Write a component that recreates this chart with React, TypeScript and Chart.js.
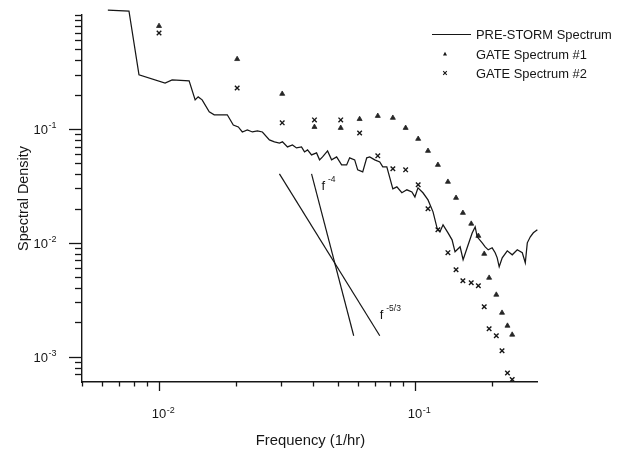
import React, { useEffect, useRef } from "react";
import { Chart, registerables } from "chart.js";

Chart.register(...registerables);

// PRE-STORM spectrum (frequency in 1/hr, spectral density)
const preStormFreq = [
  0.00631, 0.00763, 0.00835, 0.01056, 0.01125, 0.01311, 0.01384, 0.01422, 0.01474, 0.01571,
  0.01643, 0.01848, 0.01951, 0.02041, 0.02116, 0.02214, 0.02317, 0.02424, 0.02535, 0.027,
  0.02825, 0.02955, 0.03037, 0.03177, 0.03323, 0.03445, 0.03604, 0.03703, 0.03805, 0.03945,
  0.04127, 0.0424, 0.04356, 0.04557, 0.04725, 0.04943, 0.05171, 0.0541, 0.05559, 0.05816,
  0.05976, 0.06252, 0.06482, 0.0666, 0.06967, 0.07289, 0.07489, 0.07766, 0.0798, 0.08199,
  0.08501, 0.08892, 0.09302, 0.09732, 0.1, 0.1028, 0.1075, 0.1125, 0.1177, 0.122,
  0.1253, 0.1288, 0.1347, 0.1397, 0.1435, 0.1475, 0.1502, 0.1543, 0.16, 0.1674,
  0.172, 0.1751, 0.1832, 0.1882, 0.1934, 0.2004, 0.2059, 0.2097, 0.2135, 0.2194,
  0.2296, 0.2401, 0.2512, 0.2628, 0.27, 0.2749, 0.2825, 0.2903, 0.301,
];
const preStormDensity = [
  1.106, 1.084, 0.298, 0.253, 0.269, 0.264, 0.18, 0.191, 0.18, 0.141,
  0.133, 0.133, 0.108, 0.104, 0.094, 0.098, 0.094, 0.096, 0.094, 0.08,
  0.077, 0.075, 0.077, 0.0695, 0.0724, 0.0681, 0.0695, 0.0628, 0.0654, 0.0591,
  0.0616, 0.0535, 0.0568, 0.0641, 0.0535, 0.0568, 0.0483, 0.0483, 0.0557, 0.0535,
  0.0437, 0.042, 0.0557, 0.0568, 0.0535, 0.0513, 0.0464, 0.0464, 0.0372, 0.0298,
  0.031, 0.0275, 0.0292, 0.028, 0.0253, 0.0304, 0.0275, 0.0238, 0.0187, 0.01354,
  0.01249, 0.01438, 0.01224, 0.01062, 0.00834, 0.00886, 0.00922, 0.0071, 0.00904, 0.0122,
  0.01381, 0.01129, 0.01, 0.00922, 0.00868, 0.00904, 0.00818, 0.00738, 0.00616, 0.00738,
  0.00851, 0.00785, 0.00868, 0.00818, 0.00668, 0.01, 0.01129, 0.01224, 0.013,
];

// GATE spectra
const gateFreq = [
  0.01, 0.0202, 0.0303, 0.0405, 0.0513, 0.0608, 0.0716, 0.082, 0.092, 0.103,
  0.1125, 0.123, 0.1346, 0.1448, 0.154, 0.166, 0.177, 0.1866, 0.195, 0.208,
  0.219, 0.23, 0.24,
];
const gate1Density = [
  0.8, 0.41, 0.203, 0.104, 0.102, 0.122, 0.13, 0.125, 0.102, 0.0817,
  0.0641, 0.0483, 0.0343, 0.0248, 0.0183, 0.0147, 0.0115, 0.008, 0.00493, 0.0035,
  0.00243, 0.00187, 0.00156,
];
const gate2Density = [
  0.695, 0.229, 0.113, 0.12, 0.12, 0.092, 0.058, 0.0446, 0.0437, 0.0323,
  0.0199, 0.013, 0.0082, 0.0058, 0.00464, 0.00446, 0.0042, 0.00275, 0.00176, 0.00153,
  0.00113, 0.00072, 0.00063,
];

// reference slope lines
const slope53Freq = [0.02955, 0.07289];
const slope53Density = [0.0403, 0.001528];
const slope4Freq = [0.03945, 0.05765];
const slope4Density = [0.0403, 0.001528];

// slope label anchors
const slope4Label = { x: 0.0431, y: 0.0292, exp: "-4" };
const slope53Label = { x: 0.0729, y: 0.00216, exp: "-5/3" };

// axes
const xMin = 0.005;
const xMax = 0.3;
const yMin = 0.0006;
const yMax = 1;
const xMajorTicks = [0.01, 0.1];
const xMajorExp = ["-2", "-1"];
const xMinorTicks = [0.005, 0.006, 0.007, 0.008, 0.009, 0.02, 0.03, 0.04, 0.05, 0.06, 0.07, 0.08, 0.09, 0.2];
const yMajorTicks = [0.1, 0.01, 0.001];
const yMajorExp = ["-1", "-2", "-3"];
const yMinorTicks = [
  1, 0.9, 0.8, 0.7, 0.6, 0.5, 0.4, 0.3, 0.2,
  0.09, 0.08, 0.07, 0.06, 0.05, 0.04, 0.03, 0.02,
  0.009, 0.008, 0.007, 0.006, 0.005, 0.004, 0.003, 0.002,
  0.0009, 0.0008, 0.0007,
];

const xTitle = "Frequency (1/hr)";
const yTitle = "Spectral Density";

const FONT = "'Liberation Sans', Arial, Helvetica, sans-serif";
const INK = "#161616";

const decorPlugin = {
  id: "decor",
  afterDraw(chart: any) {
    const ctx: CanvasRenderingContext2D = chart.ctx;
    const xs = chart.scales.x;
    const ys = chart.scales.y;
    const area = chart.chartArea;
    ctx.save();
    ctx.strokeStyle = INK;
    ctx.fillStyle = INK;
    ctx.lineWidth = 1.3;

    // x tick marks
    const xTick = (v: number, len: number) => {
      const px = Math.round(xs.getPixelForValue(v)) + 0.5;
      ctx.beginPath();
      ctx.moveTo(px, area.bottom);
      ctx.lineTo(px, area.bottom + len);
      ctx.stroke();
    };
    xMinorTicks.forEach((v) => xTick(v, 4.5));
    xMajorTicks.forEach((v) => xTick(v, 9));

    const yTick = (v: number, len: number) => {
      const py = Math.round(ys.getPixelForValue(v)) + 0.5;
      ctx.beginPath();
      ctx.moveTo(area.left - len, py);
      ctx.lineTo(area.left, py);
      ctx.stroke();
    };
    yMinorTicks.forEach((v) => yTick(v, 7));
    yMajorTicks.forEach((v) => yTick(v, 13));

    // tick labels
    const base = `13px ${FONT}`;
    const sup = `9px ${FONT}`;
    xMajorTicks.forEach((v, i) => {
      const px = xs.getPixelForValue(v);
      ctx.font = base;
      ctx.textAlign = "center";
      ctx.textBaseline = "alphabetic";
      ctx.fillText("10", px, area.bottom + 36);
      const w = ctx.measureText("10").width;
      ctx.font = sup;
      ctx.textAlign = "left";
      ctx.fillText(xMajorExp[i], px + w / 2 + 0.5, area.bottom + 31);
    });
    yMajorTicks.forEach((v, i) => {
      const py = ys.getPixelForValue(v);
      ctx.font = base;
      ctx.textAlign = "right";
      ctx.textBaseline = "alphabetic";
      ctx.fillText("10", area.left - 34, py + 5);
      ctx.font = sup;
      ctx.textAlign = "left";
      ctx.fillText(yMajorExp[i], area.left - 34 + 0.5, py - 0.5);
    });

    // axis titles
    ctx.font = `14.8px ${FONT}`;
    ctx.textAlign = "center";
    ctx.textBaseline = "alphabetic";
    ctx.fillText(xTitle, (area.left + area.right) / 2 + 1, area.bottom + 63);
    ctx.font = `14.4px ${FONT}`;
    ctx.save();
    ctx.translate(area.left - 54, (area.top + area.bottom) / 2);
    ctx.rotate(-Math.PI / 2);
    ctx.fillText(yTitle, 0, 0);
    ctx.restore();

    // slope labels
    [slope4Label, slope53Label].forEach((lab) => {
      const px = xs.getPixelForValue(lab.x);
      const py = ys.getPixelForValue(lab.y);
      ctx.font = `13px ${FONT}`;
      ctx.textAlign = "left";
      ctx.fillText("f", px, py);
      ctx.font = `8.5px ${FONT}`;
      ctx.fillText(lab.exp, px + 6.5, py - 7.5);
    });

    // legend
    const ds = chart.data.datasets;
    const lx = area.right - 105;
    const tx = area.right - 61;
    const rows = [area.top + 19, area.top + 39, area.top + 58];
    ctx.font = `12.9px ${FONT}`;
    ctx.textAlign = "left";
    ctx.textBaseline = "middle";
    // line sample
    ctx.lineWidth = 1.2;
    ctx.beginPath();
    ctx.moveTo(lx, rows[0] + 0.5);
    ctx.lineTo(lx + 39, rows[0] + 0.5);
    ctx.stroke();
    ctx.fillText(ds[0].label, tx, rows[0] + 1);
    // triangle sample
    const mx = lx + 13;
    ctx.beginPath();
    ctx.moveTo(mx, rows[1] - 2.2);
    ctx.lineTo(mx + 2, rows[1] + 1.6);
    ctx.lineTo(mx - 2, rows[1] + 1.6);
    ctx.closePath();
    ctx.fill();
    ctx.fillText(ds[1].label, tx, rows[1] + 1);
    // cross sample
    ctx.lineWidth = 1.1;
    ctx.beginPath();
    ctx.moveTo(mx - 1.8, rows[2] - 1.8);
    ctx.lineTo(mx + 1.8, rows[2] + 1.8);
    ctx.moveTo(mx + 1.8, rows[2] - 1.8);
    ctx.lineTo(mx - 1.8, rows[2] + 1.8);
    ctx.stroke();
    ctx.fillText(ds[2].label, tx, rows[2] + 1);

    ctx.restore();
  },
};

const pairs = (xsArr: number[], ysArr: number[]) => xsArr.map((x, i) => ({ x, y: ysArr[i] }));

export default function App() {
  const canvasRef = useRef<HTMLCanvasElement | null>(null);

  useEffect(() => {
    const canvas = canvasRef.current;
    if (!canvas) return;
    const chart = new Chart(canvas, {
      type: "scatter",
      data: {
        datasets: [
          {
            label: "PRE-STORM Spectrum",
            data: pairs(preStormFreq, preStormDensity),
            showLine: true,
            borderColor: INK,
            backgroundColor: INK,
            borderWidth: 1.25,
            pointRadius: 0,
            tension: 0,
            clip: false,
          },
          {
            label: "GATE Spectrum #1",
            data: pairs(gateFreq, gate1Density),
            pointStyle: "triangle",
            pointRadius: 2.9,
            backgroundColor: "#262626",
            borderColor: "#262626",
            borderWidth: 0.8,
            showLine: false,
          },
          {
            label: "GATE Spectrum #2",
            data: pairs(gateFreq, gate2Density),
            pointStyle: "crossRot",
            pointRadius: 3.2,
            borderColor: INK,
            backgroundColor: INK,
            borderWidth: 1.4,
            showLine: false,
          },
          {
            label: "f^-5/3",
            data: pairs(slope53Freq, slope53Density),
            showLine: true,
            borderColor: INK,
            borderWidth: 1.2,
            pointRadius: 0,
          },
          {
            label: "f^-4",
            data: pairs(slope4Freq, slope4Density),
            showLine: true,
            borderColor: INK,
            borderWidth: 1.2,
            pointRadius: 0,
          },
        ],
      },
      options: {
        responsive: false,
        animation: false,
        events: [],
        layout: { padding: { left: 82, top: 15, right: 86, bottom: 68 } },
        plugins: {
          legend: { display: false },
          tooltip: { enabled: false },
          title: { display: false },
        },
        scales: {
          x: {
            type: "logarithmic",
            min: xMin,
            max: xMax,
            ticks: { display: false },
            grid: { display: false, drawTicks: false },
            border: { display: true, color: INK, width: 1.4 },
          },
          y: {
            type: "logarithmic",
            min: yMin,
            max: yMax,
            ticks: { display: false },
            grid: { display: false, drawTicks: false },
            border: { display: true, color: INK, width: 1.4 },
          },
        },
      },
      plugins: [decorPlugin],
    } as any);
    return () => chart.destroy();
  }, []);

  return (
    <div style={{ position: "fixed", left: 0, top: 0, width: 623, height: 450, background: "#fff" }}>
      <canvas ref={canvasRef} width={623} height={450} style={{ display: "block" }} />
    </div>
  );
}
